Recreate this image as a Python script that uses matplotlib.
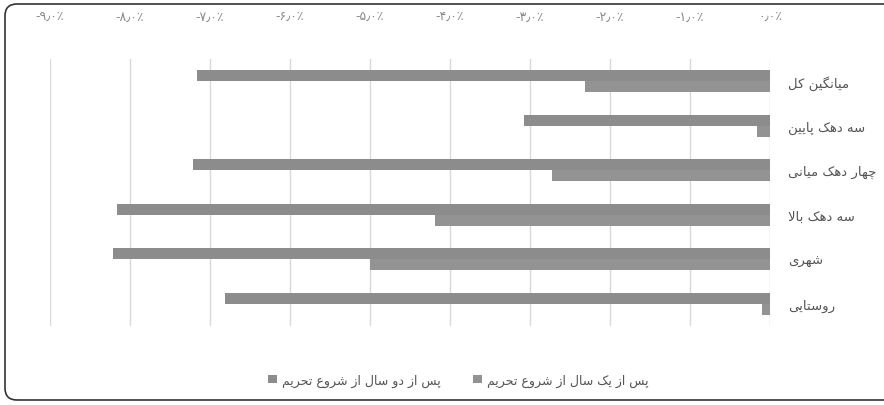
import matplotlib.pyplot as plt
import numpy as np
from matplotlib.patches import FancyBboxPatch

categories = ["میانگین کل", "سه دهک پایین", "چهار دهک میانی", "سه دهک بالا", "شهری", "روستایی"]
one_year = [-2.31, -0.16, -2.73, -4.19, -5.00, -0.10]
two_years = [-7.16, -3.08, -7.21, -8.16, -8.21, -6.81]
series_names = ["پس از یک سال از شروع تحریم", "پس از دو سال از شروع تحریم"]
ticks = [-9, -8, -7, -6, -5, -4, -3, -2, -1, 0]

# forms: isolated, final, initial, medial (None -> letter does not join forward)
FORMS = {
    "ا": (0xFE8D, 0xFE8E, None, None),
    "ب": (0xFE8F, 0xFE90, 0xFE91, 0xFE92),
    "پ": (0xFB56, 0xFB57, 0xFB58, 0xFB59),
    "ت": (0xFE95, 0xFE96, 0xFE97, 0xFE98),
    "ح": (0xFEA1, 0xFEA2, 0xFEA3, 0xFEA4),
    "چ": (0xFB7A, 0xFB7B, 0xFB7C, 0xFB7D),
    "د": (0xFEA9, 0xFEAA, None, None),
    "ر": (0xFEAD, 0xFEAE, None, None),
    "ز": (0xFEAF, 0xFEB0, None, None),
    "س": (0xFEB1, 0xFEB2, 0xFEB3, 0xFEB4),
    "ش": (0xFEB5, 0xFEB6, 0xFEB7, 0xFEB8),
    "ع": (0xFEC9, 0xFECA, 0xFECB, 0xFECC),
    "ک": (0xFB8E, 0xFB8F, 0xFB90, 0xFB91),
    "گ": (0xFB92, 0xFB93, 0xFB94, 0xFB95),
    "ل": (0xFEDD, 0xFEDE, 0xFEDF, 0xFEE0),
    "م": (0xFEE1, 0xFEE2, 0xFEE3, 0xFEE4),
    "ن": (0xFEE5, 0xFEE6, 0xFEE7, 0xFEE8),
    "ه": (0xFEE9, 0xFEEA, 0xFEEB, 0xFEEC),
    "و": (0xFEED, 0xFEEE, None, None),
    "ی": (0xFBFC, 0xFBFD, 0xFBFE, 0xFBFF),
}


def shape(text):
    # poor man's arabic shaping + reverse for matplotlib
    text = text.replace("لا", "\uFEFB")
    out = []
    for i, ch in enumerate(text):
        if ch == "\uFEFB":
            prev = text[i - 1] if i > 0 else " "
            joins_prev = prev in FORMS and FORMS[prev][2] is not None
            out.append("\uFEFC" if joins_prev else "\uFEFB")
            continue
        if ch not in FORMS:
            out.append(ch)
            continue
        prev = text[i - 1] if i > 0 else " "
        nxt = text[i + 1] if i + 1 < len(text) else " "
        joins_prev = prev in FORMS and FORMS[prev][2] is not None
        joins_next = (nxt in FORMS or nxt == "\uFEFB") and FORMS[ch][2] is not None
        iso, fin, ini, med = FORMS[ch]
        if joins_prev and joins_next:
            out.append(chr(med))
        elif joins_prev:
            out.append(chr(fin))
        elif joins_next:
            out.append(chr(ini))
        else:
            out.append(chr(iso))
    return "".join(out)[::-1]


def fa_num(v):
    digits = "۰۱۲۳۴۵۶۷۸۹"
    s = "%.1f" % abs(v)
    s = "".join(digits[int(c)] if c.isdigit() else "\u066B" for c in s)
    return ("-" if v < 0 else "") + s + "\u066A"


plt.rcParams["font.family"] = ["DejaVu Sans"]

fig = plt.figure(figsize=(8.84, 4.06), dpi=100)
ax = fig.add_axes([50 / 884, 1 - 327 / 406, 720 / 884, 267 / 406])

y = np.arange(len(categories))
h = 0.25
ax.barh(y - h / 2, two_years, height=h, color="#8c8c8c", label=shape(series_names[1]), zorder=3)
ax.barh(y + h / 2, one_year, height=h, color="#939393", label=shape(series_names[0]), zorder=3)

ax.set_xlim(-9, 0)
ax.set_ylim(len(categories) - 0.5, -0.5)
ax.set_xticks(ticks)
ax.set_xticklabels([fa_num(t) for t in ticks], color="#8a8a8a", fontsize=9)
ax.xaxis.tick_top()
ax.tick_params(axis="x", length=0, pad=26)
ax.set_yticks(y)
ax.set_yticklabels([shape(c) for c in categories], color="#555555", fontsize=9.5, ha="left")
ax.yaxis.tick_right()
ax.tick_params(axis="y", length=0, pad=13)
ax.grid(axis="x", color="#d8d8d8", linewidth=1, zorder=0)
for s in ax.spines.values():
    s.set_visible(False)

leg = fig.legend(loc="center", bbox_to_anchor=(458 / 884, 1 - 381 / 406), ncol=2, frameon=False,
                 fontsize=9, handlelength=0.7, handleheight=0.7, handletextpad=0.4, columnspacing=2.6)
for t in leg.get_texts():
    t.set_color("#555555")

# page frame, open on the right side (in pixels)
frame = FancyBboxPatch((5, 5), 1500, 396, boxstyle="round,pad=0,rounding_size=12",
                       transform=None, fill=False, edgecolor="#333333", linewidth=1.2)
fig.patches.append(frame)

fig.savefig("out.png", dpi=100)
